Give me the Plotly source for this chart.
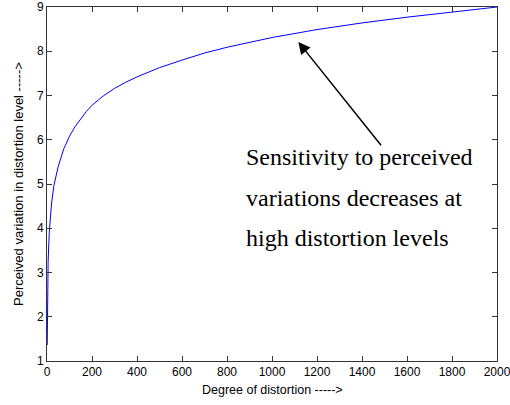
import plotly.graph_objects as go

degree = [1, 2, 3, 5, 10, 20, 30, 50, 75, 100, 125, 150, 175, 200, 250, 300, 350, 400,
          450, 500, 600, 700, 800, 900, 1000, 1200, 1400, 1600, 1800, 2000]
perceived = [1.36, 2.2, 2.7, 3.25, 3.9, 4.55, 4.95, 5.4, 5.8, 6.08, 6.3, 6.48, 6.64, 6.78,
             6.99, 7.16, 7.3, 7.42, 7.53, 7.63, 7.8, 7.96, 8.09, 8.2, 8.31, 8.49, 8.64,
             8.77, 8.89, 9.0]

x_ticks = [0, 200, 400, 600, 800, 1000, 1200, 1400, 1600, 1800, 2000]
y_ticks = [1, 2, 3, 4, 5, 6, 7, 8, 9]

note_lines = ["Sensitivity to perceived", "variations decreases at", "high distortion levels"]
note_y = [5.61, 4.68, 3.78]

fig = go.Figure()
fig.add_trace(go.Scatter(x=degree, y=perceived, mode="lines",
                         line=dict(color="#0000ff", width=1),
                         showlegend=False))

axis_common = dict(showline=True, linecolor="#333333", linewidth=1, mirror="ticks",
                   ticks="inside", ticklen=5, tickcolor="#333333", showgrid=False,
                   zeroline=False, ticklabeloverflow="allow", automargin=False,
                   tickfont=dict(family="Liberation Sans, Arial", size=12, color="black"))

fig.update_xaxes(range=[0, 2000], tickvals=x_ticks, **axis_common)
fig.update_yaxes(range=[1, 9], tickvals=y_ticks, **axis_common)

annotations = []
for txt, yy in zip(note_lines, note_y):
    annotations.append(dict(x=877, y=yy, xref="x", yref="y", text=txt, showarrow=False,
                            xanchor="left", yanchor="middle",
                            font=dict(family="Liberation Serif, Times New Roman", size=24,
                                      color="black")))
annotations.append(dict(x=1117, y=8.21, xref="x", yref="y", ax=1490, ay=5.84,
                        axref="x", ayref="y", text="", showarrow=True,
                        arrowhead=2, arrowsize=1.6, arrowwidth=1.5, arrowcolor="black"))
annotations.append(dict(x=0.5, y=0, xref="paper", yref="paper", yshift=-29,
                        text="Degree of distortion ----->", showarrow=False,
                        xanchor="center", yanchor="middle",
                        font=dict(family="Liberation Sans, Arial", size=12.5, color="black")))
annotations.append(dict(x=0, y=0.5, xref="paper", yref="paper", xshift=-29,
                        text="Perceived variation in distortion level ----->",
                        showarrow=False, textangle=-90, xanchor="center", yanchor="middle",
                        font=dict(family="Liberation Sans, Arial", size=13, color="black")))

fig.update_layout(width=510, height=405, margin=dict(l=47, r=13, t=7, b=44),
                  plot_bgcolor="white", paper_bgcolor="white",
                  annotations=annotations)

fig.write_html("out.html")
